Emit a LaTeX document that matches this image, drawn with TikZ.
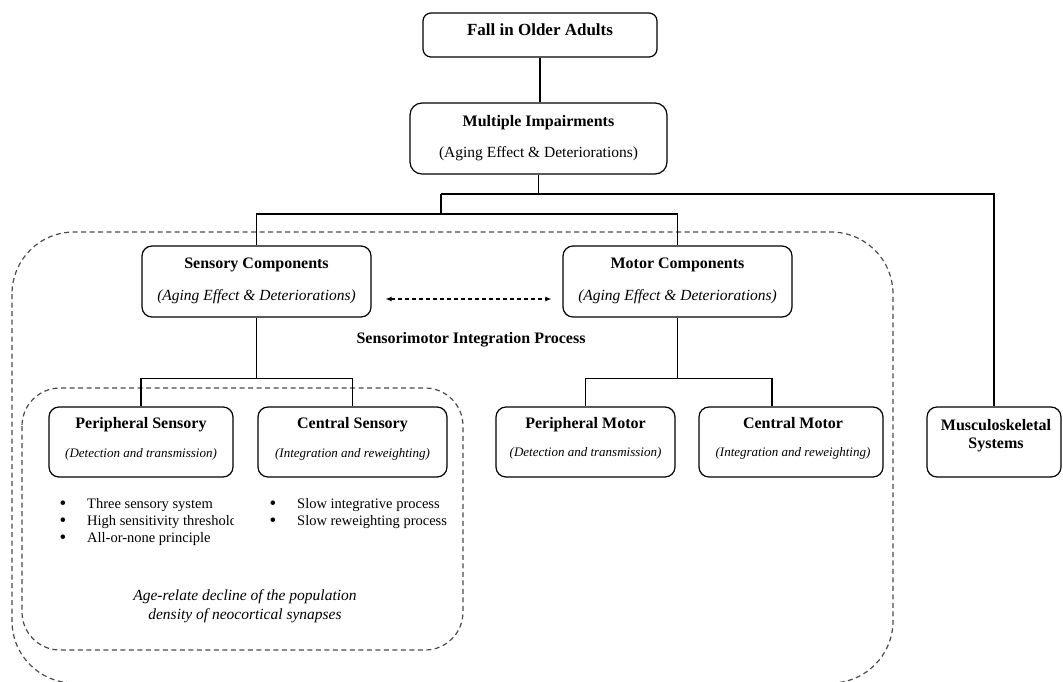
\documentclass[tikz,border=0pt]{standalone}
\usepackage{fontspec}
\setmainfont{Liberation Serif}
\usetikzlibrary{calc,arrows.meta}
\begin{document}
\begin{tikzpicture}[x=1pt,y=-1pt,
 box/.style={draw=black, line width=1.2pt, rounded corners=10pt, inner sep=0pt, fill=white},
 conn/.style={draw=black, line width=1.2pt},
 dashbox/.style={draw=black!70, line width=1.2pt, dash pattern=on 5pt off 3.5pt},
 dasharr/.style={draw=black, line width=1.1pt, dash pattern=on 4pt off 3pt, arrows={Latex[length=6pt,width=5pt]-Latex[length=6pt,width=5pt]}},
 ttl/.style={anchor=base, inner sep=0pt, font=\fontsize{16}{18}\selectfont\bfseries},
 sub/.style={anchor=base, inner sep=0pt, font=\fontsize{15.5}{18}\selectfont},
 isub/.style={anchor=base, inner sep=0pt, font=\fontsize{15.5}{18}\selectfont\itshape},
 ssub/.style={anchor=base, inner sep=0pt, font=\fontsize{13}{15}\selectfont\itshape},
 btxt/.style={anchor=base west, inner sep=0pt, font=\fontsize{14.5}{17}\selectfont},
 bdot/.style={anchor=base, inner sep=0pt, font=\fontsize{19}{20}\selectfont},
]
\useasboundingbox (0,0) rectangle (1063,681);

% dashed groups
\draw[dashbox, rounded corners=62pt] (12,232) rectangle (893,683);
\draw[dashbox, rounded corners=38pt] (22,388) rectangle (463,650);

% boxes
\node[box, minimum width=234pt, minimum height=44pt, rounded corners=8pt] (fall) at (540,35) {};
\node[box, minimum width=257pt, minimum height=71pt, rounded corners=12pt] (mult) at (538.5,138.5) {};
\node[box, minimum width=229pt, minimum height=71pt] (sens) at (256.5,281.5) {};
\node[box, minimum width=229pt, minimum height=71pt] (mot) at (677.5,281.5) {};
\node[box, minimum width=184pt, minimum height=70pt] (ps) at (141,442) {};
\node[box, minimum width=189pt, minimum height=70pt] (cs) at (352.5,442) {};
\node[box, minimum width=179pt, minimum height=70pt] (pm) at (585.5,442) {};
\node[box, minimum width=184pt, minimum height=70pt] (cm) at (791,442) {};
\node[box, minimum width=134pt, minimum height=70pt] (musc) at (994,442) {};

% connectors
\coordinate (b1) at (441,194);
\coordinate (b2) at (441,214);
\draw[conn] (fall.south) -- (fall.south |- mult.north);
\draw[conn] (mult.south) |- (b1);
\draw[conn] (b1) -| (musc.north);
\draw[conn] (b1) -- (b2);
\draw[conn] (sens.north) |- (b2) -| (mot.north);
\coordinate (b3) at ($(sens.south)+(0,61)$);
\draw[conn] (sens.south) -- (b3);
\draw[conn] (ps.north) |- (b3) -| (cs.north);
\coordinate (b4) at ($(mot.south)+(0,61)$);
\draw[conn] (mot.south) -- (b4);
\draw[conn] (pm.north) |- (b4) -| ($(cm.north)+(-19,0)$);
\draw[dasharr] ($(sens.east)+(14,17.5)$) -- ($(mot.west)+(-11,17.5)$);

% texts
\node[ttl, font=\fontsize{17}{20}\selectfont\bfseries] (tfall) at (540,35) {Fall in Older Adults};
\node[ttl] (tmult) at (538.5,126) {Multiple Impairments};
\node[sub] (smult) at (538.5,157) {(Aging Effect \& Deteriorations)};
\node[ttl] (tsens) at (256.5,268) {Sensory Components};
\node[isub] (ssens) at (256.5,300) {(Aging Effect \& Deteriorations)};
\node[ttl] (tmot) at (677.5,268) {Motor Components};
\node[isub] (smot) at (677.5,300) {(Aging Effect \& Deteriorations)};
\node[ttl] (tsm) at (471,343) {Sensorimotor Integration Process};
\node[ttl] (tps) at (141,428) {Peripheral Sensory};
\node[ssub] (sps) at (141,457) {(Detection and transmission)};
\node[ttl] (tcs) at (352.5,428) {Central Sensory};
\node[ssub] (scs) at (352.5,457) {(Integration and reweighting)};
\node[ttl] (tpm) at (585.5,428) {Peripheral Motor};
\node[ssub] (spm) at (585.5,456) {(Detection and transmission)};
\node[ttl] (tcm) at (793,428) {Central Motor};
\node[ssub] (scm) at (793,456) {(Integration and reweighting)};
\node[ttl] (tmus) at (996,430) {Musculoskeletal};
\node[ttl] (tsys) at (996,448) {Systems};

% bullets
\node[bdot] (d1) at (63,509) {•};
\node[bdot] (d2) at (63,526) {•};
\node[bdot] (d3) at (63,543) {•};
\node[btxt] (l1) at (87,508) {Three sensory system};
\begin{scope}
\clip (80,490) rectangle (233,550);
\node[btxt] (l2) at (87,525) {High sensitivity threshold};
\end{scope}
\node[btxt] (l3) at (87,542) {All-or-none principle};
\node[bdot] (d4) at (273,509) {•};
\node[bdot] (d5) at (273,526) {•};
\node[btxt] (l4) at (297,508) {Slow integrative process};
\node[btxt] (l5) at (297,525) {Slow reweighting process};

\node[isub] (age1) at (245,600) {Age-relate decline of the population};
\node[isub] (age2) at (245,619) {density of neocortical synapses};
\end{tikzpicture}
\end{document}
